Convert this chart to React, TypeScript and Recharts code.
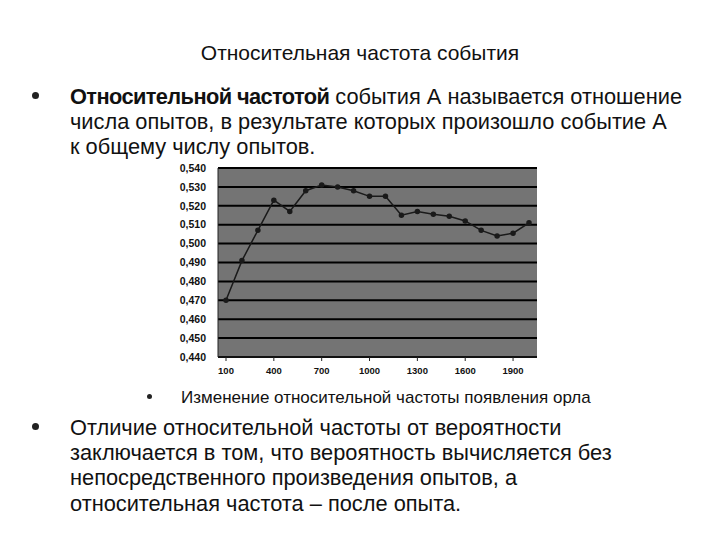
import { LineChart, Line, XAxis, YAxis, CartesianGrid } from "recharts";

// number of trials (x) and relative frequency of heads (y)
const trials = [
  100, 200, 300, 400, 500, 600, 700, 800, 900, 1000,
  1100, 1200, 1300, 1400, 1500, 1600, 1700, 1800, 1900, 2000,
];
const freq = [
  0.47, 0.491, 0.507, 0.523, 0.517, 0.528, 0.531, 0.53, 0.528, 0.525,
  0.525, 0.515, 0.517, 0.5155, 0.5145, 0.512, 0.507, 0.504, 0.5055, 0.511,
];
const yTicks = [0.44, 0.45, 0.46, 0.47, 0.48, 0.49, 0.5, 0.51, 0.52, 0.53, 0.54];

const title = "Относительная частота события";
const caption = "Изменение относительной частоты появления орла";

const data = trials.map((t, i) => ({ n: t, f: freq[i] }));

const FONT = "'Liberation Sans', Arial, sans-serif";
const line = (top: number, left: number, text: React.ReactNode, size = 21.8) => (
  <div
    style={{
      position: "absolute",
      top,
      left,
      fontSize: size,
      whiteSpace: "nowrap",
      color: "#111",
      lineHeight: 1,
    }}
  >
    {text}
  </div>
);

const bullet = (top: number, left: number, size = 9) => (
  <div
    style={{
      position: "absolute",
      top,
      left,
      width: size,
      height: size,
      borderRadius: "50%",
      background: "#222",
    }}
  />
);

const axisTick = { fill: "#111", fontSize: 10.5, fontFamily: "Arial, sans-serif", fontWeight: 700 };

export default function App() {
  return (
    <div
      style={{
        position: "relative",
        width: 720,
        height: 540,
        margin: -8,
        background: "#fff",
        fontFamily: FONT,
        overflow: "hidden",
      }}
    >
      <div
        style={{
          position: "absolute",
          top: 41,
          left: 0,
          width: 720,
          textAlign: "center",
          fontSize: 21,
          color: "#111",
        }}
      >
        {title}
      </div>

      {bullet(92, 32, 7)}
      {line(
        86,
        70,
        <>
          <b style={{ letterSpacing: -0.6 }}>Относительной частотой</b> события А называется отношение
        </>
      )}
      {line(111, 70, "числа опытов, в результате которых произошло событие А")}
      {line(136, 70, "к общему числу опытов.")}

      <div style={{ position: "absolute", top: 160, left: 160 }}>
        <LineChart
          width={390}
          height={225}
          data={data}
          margin={{ top: 8, right: 13, bottom: 2, left: 0 }}
        >
          <CartesianGrid
            vertical={false}
            stroke="#000"
            strokeWidth={2}
            fill="#747474"
          />
          <XAxis
            dataKey="n"
            interval={2}
            height={26}
            padding={{ left: 8, right: 8 }}
            tick={{ ...axisTick, fontSize: 9.5 }}
            tickLine={{ stroke: "#222" }}
            tickSize={4}
            tickMargin={6}
            axisLine={{ stroke: "#222" }}
          />
          <YAxis
            width={58}
            domain={[0.44, 0.54]}
            ticks={yTicks}
            interval={0}
            tickFormatter={(v: number) => v.toFixed(3).replace(".", ",")}
            tick={axisTick}
            tickLine={false}
            tickMargin={6}
            axisLine={{ stroke: "#222" }}
          />
          <Line
            type="linear"
            dataKey="f"
            stroke="#1a1a1a"
            strokeWidth={1.5}
            dot={{ r: 2, fill: "#1a1a1a", stroke: "#1a1a1a" }}
            isAnimationActive={false}
          />
        </LineChart>
      </div>

      {bullet(394, 147, 5)}
      {line(389, 181, caption, 17)}

      {bullet(423, 32, 7)}
      {line(417, 70, "Отличие относительной частоты от вероятности")}
      {line(442, 70, "заключается в том, что вероятность вычисляется без")}
      {line(467, 70, "непосредственного произведения опытов, а")}
      {line(493, 70, "относительная частота – после опыта.")}
    </div>
  );
}
